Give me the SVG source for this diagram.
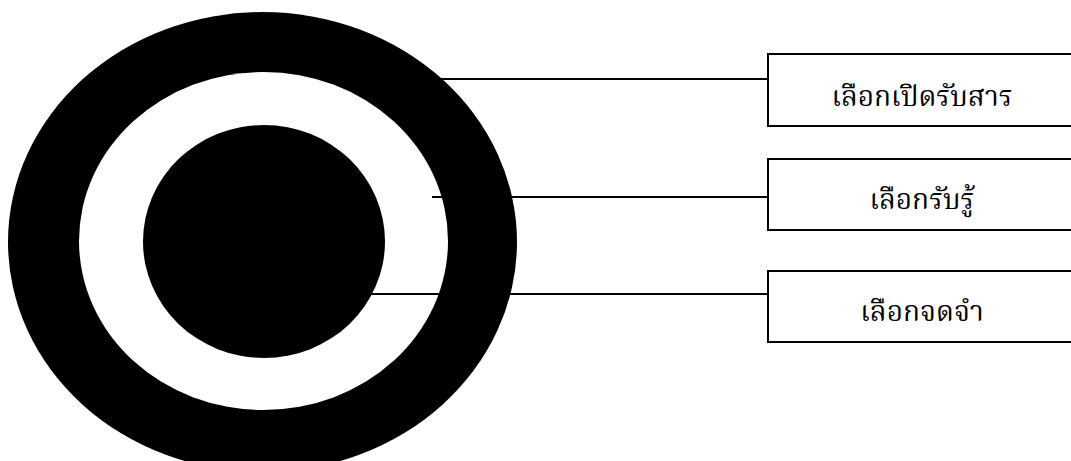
<svg xmlns="http://www.w3.org/2000/svg" width="1071" height="461" viewBox="0 0 1071 461">
<style>
.box{fill:#fff;stroke:#000;stroke-width:2}
.conn{stroke:#000;stroke-width:2;fill:none}
.lbl{font-family:"Noto Serif Thai","Noto Sans Thai Looped","Noto Sans Thai","Noto Sans","DejaVu Sans",sans-serif;font-size:28px;fill:#000;text-anchor:middle}
</style>
<rect width="1071" height="461" fill="#fff"/>
<g id="target">
<ellipse cx="262.5" cy="242" rx="254.5" ry="230" fill="#000"/>
<ellipse cx="263.5" cy="241" rx="184.5" ry="169" fill="#fff"/>
<ellipse cx="264" cy="241.5" rx="121" ry="116.5" fill="#000"/>
</g>
<g id="connectors">
<line class="conn" x1="440" y1="79" x2="768" y2="79"/>
<line class="conn" x1="432" y1="197" x2="768" y2="197"/>
<line class="conn" x1="368" y1="294" x2="768" y2="294"/>
</g>
<g id="node1"><rect class="box" x="768" y="54" width="310" height="72"/><text class="lbl" x="922" y="105.5">เลือกเปิดรับสาร</text></g>
<g id="node2"><rect class="box" x="768" y="159" width="310" height="71"/><text class="lbl" x="922" y="209">เลือกรับรู้</text></g>
<g id="node3"><rect class="box" x="768" y="271" width="310" height="71"/><text class="lbl" x="922" y="321">เลือกจดจำ</text></g>
</svg>
